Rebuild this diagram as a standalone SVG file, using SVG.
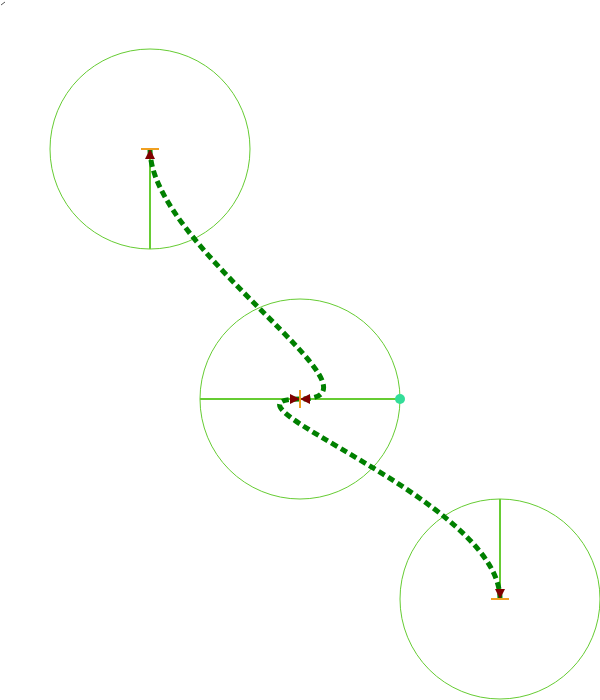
<svg xmlns="http://www.w3.org/2000/svg" width="600" height="700" viewBox="0 0 600 700">
<style>
.ring{fill:none;stroke:#66cc33;stroke-width:1}
.handle{fill:none;stroke:#66cc33;stroke-width:2}
.curve{fill:none;stroke:#008000;stroke-width:5;stroke-dasharray:7,4}
</style>
<defs>
<marker id="arrow" viewBox="-10 -10 20 20" refX="0" refY="0" markerWidth="20" markerHeight="20" markerUnits="userSpaceOnUse" orient="auto-start-reverse">
<path d="M0,0 L-10,-5 L-10,5 Z" fill="#800000"/>
<line x1="0" y1="-9" x2="0" y2="9" stroke="#f0a020" stroke-width="2"/>
</marker>
</defs>
<rect width="600" height="700" fill="#ffffff"/>
<path d="M1,5 L5,2" stroke="#555" stroke-width="1" fill="none"/>
<g id="node-top">
<circle class="ring" cx="150" cy="149" r="100"/>
<line class="handle" x1="150" y1="149" x2="150" y2="249"/>
</g>
<g id="node-middle">
<circle class="ring" cx="300" cy="399" r="100"/>
<line class="handle" x1="200" y1="399" x2="400" y2="399"/>
<circle cx="400" cy="399" r="5" fill="#33dd99"/>
</g>
<g id="node-bottom">
<circle class="ring" cx="500" cy="599" r="100"/>
<line class="handle" x1="500" y1="599" x2="500" y2="499"/>
</g>
<g id="connectors">
<path class="curve" d="M150,149 C150,249 400,399 300,399" marker-start="url(#arrow)" marker-end="url(#arrow)"/>
<path class="curve" d="M300,399 C200,399 500,499 500,599" marker-start="url(#arrow)" marker-end="url(#arrow)"/>
</g>
</svg>
